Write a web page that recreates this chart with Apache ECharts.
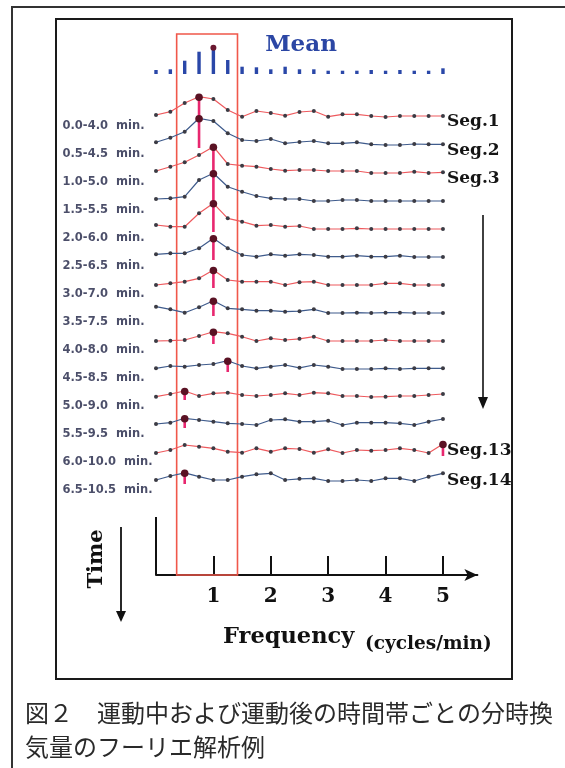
<!DOCTYPE html>
<html><head><meta charset="utf-8">
<script src="https://cdn.jsdelivr.net/npm/echarts@6.0.0/dist/echarts.min.js"></script>
<style>html,body{margin:0;padding:0;background:#fff}#c{width:565px;height:768px}</style>
</head><body><div id="c"></div>
<script>
// ---------- data ----------
const FREQ = [0, 0.25, 0.5, 0.75, 1, 1.25, 1.5, 1.75, 2, 2.25, 2.5, 2.75, 3, 3.25, 3.5, 3.75, 4, 4.25, 4.5, 4.75, 5];
const X_TICKS = [1, 2, 3, 4, 5];
const TIME_LABELS = ['0.0-4.0  min.', '0.5-4.5  min.', '1.0-5.0  min.', '1.5-5.5  min.', '2.0-6.0  min.',
  '2.5-6.5  min.', '3.0-7.0  min.', '3.5-7.5  min.', '4.0-8.0  min.', '4.5-8.5  min.', '5.0-9.0  min.',
  '5.5-9.5  min.', '6.0-10.0  min.', '6.5-10.5  min.'];
const SEG_NAMES = ['Seg.1', 'Seg.2', 'Seg.3', '', '', '', '', '', '', '', '', '', 'Seg.13', 'Seg.14'];
const MEAN = [4, 4.7, 13.3, 22.3, 27.3, 14, 7.3, 6.7, 4.7, 7.3, 4.7, 4.7, 3.3, 3.3, 3.3, 4, 3.3, 4, 3.3, 3.3, 5.7];
const SEG_01 = [2, 5.3, 14, 20.3, 18, 7, 0.3, 6, 4, 1.3, 5, 6, 0.3, 2.7, 2.7, 1, 0, 1, 1, 1, 1];
const SEG_02 = [2.7, 7.3, 13.3, 26.7, 24, 11.7, 5, 4, 6, 1.7, 3, 4, 1.7, 1.7, 2.7, 0.7, 0, 0, 1, 0.7, 0.7];
const SEG_03 = [2, 6.3, 10.7, 18, 26.3, 9, 7.3, 6.3, 4, 2.3, 3, 3, 2, 2, 2, 0, 0, 0, 1.3, 0, 0.7];
const SEG_04 = [2, 2.7, 4.3, 21, 27.7, 14.3, 9.3, 5, 2.7, 2, 2, 0, 0, 1, 1, 0, 0, 0, 0, 0, 0];
const SEG_05 = [4, 2.3, 2.3, 15.7, 25.7, 10.7, 7.3, 3.3, 4, 2.3, 3, 0, 0, 0, 0.7, 0, 0, 0, 0, 0, 0];
const SEG_06 = [2.7, 3.7, 3.7, 8.7, 18.7, 8.7, 2, 0.3, 2.7, 1.3, 2.7, 2, 0.3, 0.3, 1.3, 0.3, 0.3, 1.3, 0, 0, 0];
const SEG_07 = [0, 1.7, 3.3, 6.7, 15, 5, 3.3, 3.3, 3.3, 0, 2.8, 3.3, 0, 0, 0, 0, 1.7, 1.7, 0, 0, 0];
const SEG_08 = [6.3, 3.7, 0.3, 5.7, 12.3, 4.7, 3.7, 2.3, 2.3, 1.3, 1.8, 3.7, 0, 0, 0.3, 0, 0.3, 0.3, 0, 0, 0];
const SEG_09 = [0, 0.3, 1, 5, 9.3, 7.7, 4.3, 0, 2.7, 1, 2.2, 4.3, 0, 0, 0, 0, 1, 0, 0, 0, 0];
const SEG_10 = [0.7, 3, 2.3, 4, 5, 8.3, 3, 0.7, 2.3, 4, 1.2, 4, 2.3, 0, 0, 0, 0.7, 0, 0.7, 0.7, 0.7];
const SEG_11 = [0.3, 3, 6, 1, 3.7, 4.3, 2, 1, 2, 3.7, 2, 4.3, 3.7, 1, 1, 0, 0.3, 1, 1, 2, 3];
const SEG_12 = [1, 2.3, 6.7, 5, 3.3, 1.7, 1, 0, 5, 5.7, 3.3, 3.3, 4.3, 0, 2.3, 2.3, 2.3, 1.7, 0, 3.3, 6];
const SEG_13 = [0, 3, 8, 6.3, 4.7, 1.3, 0.3, 4.7, 1.3, 4.7, 4, 0.3, 3.7, 0, 3, 2.3, 3, 4.7, 3, 0, 9];
const SEG_14 = [1, 5, 8.2, 4.3, 1, 1, 4.3, 6.7, 7.7, 1, 2.2, 2.7, 0, 0, 1, 0, 2.7, 2.7, 0, 4.3, 7.7];
const BAND = [0.36, 1.42]; // highlighted frequency band (cycles/min)

const SEGMENTS = [SEG_01, SEG_02, SEG_03, SEG_04, SEG_05, SEG_06, SEG_07, SEG_08, SEG_09, SEG_10, SEG_11, SEG_12, SEG_13, SEG_14];

// ---------- layout / styling ----------
const SERIF = "'DejaVu Serif', 'Liberation Serif', serif";
const STEP = 28, TOP_BASE = 458, MEAN_BASE = 501, Y_MAX = 541;
const offset = k => TOP_BASE - STEP * k;
const RED = '#ee5a5e', BLUE = '#3f5b8c';

const series = [];
SEGMENTS.forEach((amps, k) => {
  const isRed = k % 2 === 0;
  const s = {
    type: 'line', name: 'seg' + (k + 1), z: 3,
    data: amps.map((a, i) => [FREQ[i], offset(k) + a]),
    lineStyle: { color: isRed ? RED : BLUE, width: 1.2 },
    symbol: 'circle', symbolSize: 4, showSymbol: true,
    itemStyle: { color: '#3b3b44' },
    silent: true, animation: false
  };
  if (SEG_NAMES[k]) {
    s.endLabel = {
      show: true, formatter: SEG_NAMES[k], distance: 4, offset: [0, k > 10 ? 7 : 6],
      fontFamily: SERIF, fontWeight: 'bold', fontSize: 17, color: '#151515'
    };
  }
  if (k === 0) {
    s.markArea = {
      silent: true,
      itemStyle: { color: 'rgba(0,0,0,0)', borderColor: '#f0574a', borderWidth: 1.6 },
      data: [[{ coord: [BAND[0], 0] }, { coord: [BAND[1], Y_MAX] }]]
    };
    s.markLine = {
      silent: true, symbol: 'none', label: { show: false },
      lineStyle: { color: '#111', width: 2, type: 'solid' },
      data: [[{ coord: [0, 0] }, { coord: [0, 58] }]]
    };
  }
  series.push(s);
});

// peak stems
const argmax = arr => arr.reduce((b, v, i) => v > arr[b] ? i : b, 0);
series.push({
  type: 'custom', z: 5, silent: true, animation: false, clip: false,
  data: SEGMENTS.map((amps, k) => { const i = argmax(amps); return [FREQ[i], offset(k) - 3, offset(k) + amps[i]]; }),
  renderItem: (params, api) => {
    const p1 = api.coord([api.value(0), api.value(1)]);
    const p2 = api.coord([api.value(0), api.value(2)]);
    return { type: 'group', children: [
      { type: 'line', shape: { x1: p1[0], y1: p1[1], x2: p2[0], y2: p2[1] }, style: { stroke: '#e8276f', lineWidth: 2.6 } },
      { type: 'circle', shape: { cx: p2[0], cy: p2[1] + 0.5, r: 3.8 }, style: { fill: '#5a1224' } }
    ] };
  }
});

// mean spectrum stems
const meanPeak = argmax(MEAN);
series.push({
  type: 'custom', z: 5, silent: true, animation: false, clip: false,
  data: MEAN.map((a, i) => [FREQ[i], MEAN_BASE, MEAN_BASE + a, i === meanPeak ? 1 : 0]),
  renderItem: (params, api) => {
    const p1 = api.coord([api.value(0), api.value(1)]);
    const p2 = api.coord([api.value(0), api.value(2)]);
    const ch = [{ type: 'line', shape: { x1: p1[0], y1: p1[1], x2: p2[0], y2: p2[1] }, style: { stroke: '#2a47a8', lineWidth: 3.4 } }];
    if (api.value(3)) ch.push({ type: 'circle', shape: { cx: p2[0], cy: p2[1] + 1, r: 3 }, style: { fill: '#6a1830' } });
    return { type: 'group', children: ch };
  }
});

// time-window labels
series.push({
  type: 'scatter', silent: true, animation: false, symbolSize: 1,
  itemStyle: { color: 'rgba(0,0,0,0)' },
  data: TIME_LABELS.map((t, k) => ({ value: [0, offset(k)], name: t })),
  label: {
    show: true, formatter: p => p.name, position: [-93, 10], align: 'left', verticalAlign: 'middle',
    fontFamily: "'DejaVu Sans', sans-serif", fontWeight: 'bold', fontSize: 11.5, color: '#1e2244'
  }
});

const capFont = "24px 'Noto Sans CJK JP', sans-serif";
const option = {
  animation: false,
  grid: { left: 156, right: 87.6, top: 34, bottom: 193 },
  xAxis: {
    type: 'value', min: 0, max: 5.6,
    axisLine: { show: true, lineStyle: { color: '#111', width: 2 }, symbol: ['none', 'arrow'], symbolSize: [9, 13] },
    axisTick: { show: true, inside: true, length: 19, customValues: X_TICKS, lineStyle: { color: '#111', width: 2 } },
    axisLabel: { show: true, customValues: X_TICKS, margin: 12, fontFamily: SERIF, fontWeight: 'bold', fontSize: 20, color: '#111' },
    splitLine: { show: false }
  },
  yAxis: { type: 'value', min: 0, max: Y_MAX, show: false },
  series: series,
  graphic: [
    { type: 'polyline', shape: { points: [[12, 768], [12, 7], [565, 7]] }, style: { stroke: '#333', lineWidth: 2, fill: null } },
    { type: 'rect', shape: { x: 56, y: 19, width: 456, height: 660 }, style: { stroke: '#1a1a1a', lineWidth: 2, fill: null } },
    { type: 'text', x: 301, y: 45, style: { text: 'Mean', align: 'center', verticalAlign: 'middle', font: "bold 23px 'DejaVu Serif', serif", fill: '#2b46a4' } },
    { type: 'text', x: 223, y: 637, style: { text: 'Frequency', align: 'left', verticalAlign: 'middle', font: "bold 22.5px 'DejaVu Serif', serif", fill: '#111' } },
    { type: 'text', x: 365, y: 644, style: { text: '(cycles/min)', align: 'left', verticalAlign: 'middle', font: "bold 18.5px 'DejaVu Serif', serif", fill: '#111' } },
    { type: 'text', x: 97, y: 559, rotation: Math.PI / 2, style: { text: 'Time', align: 'center', verticalAlign: 'middle', font: "bold 21px 'DejaVu Serif', serif", fill: '#111' } },
    { type: 'line', shape: { x1: 121, y1: 527, x2: 121, y2: 614 }, style: { stroke: '#111', lineWidth: 1.8 } },
    { type: 'polygon', shape: { points: [[116, 611], [126, 611], [121, 622]] }, style: { fill: '#111' } },
    { type: 'line', shape: { x1: 483, y1: 215, x2: 483, y2: 400 }, style: { stroke: '#111', lineWidth: 1.6 } },
    { type: 'polygon', shape: { points: [[478, 397], [488, 397], [483, 409]] }, style: { fill: '#111' } },
    { type: 'text', x: 25, y: 713, style: { text: '図２　運動中および運動後の時間帯ごとの分時換', align: 'left', verticalAlign: 'middle', font: capFont, fill: '#2a2a2a' } },
    { type: 'text', x: 25, y: 747, style: { text: '気量のフーリエ解析例', align: 'left', verticalAlign: 'middle', font: capFont, fill: '#2a2a2a' } }
  ]
};
const chart = echarts.init(document.getElementById('c'), null, { renderer: 'canvas' });
chart.setOption(option);
</script>
</body></html>
